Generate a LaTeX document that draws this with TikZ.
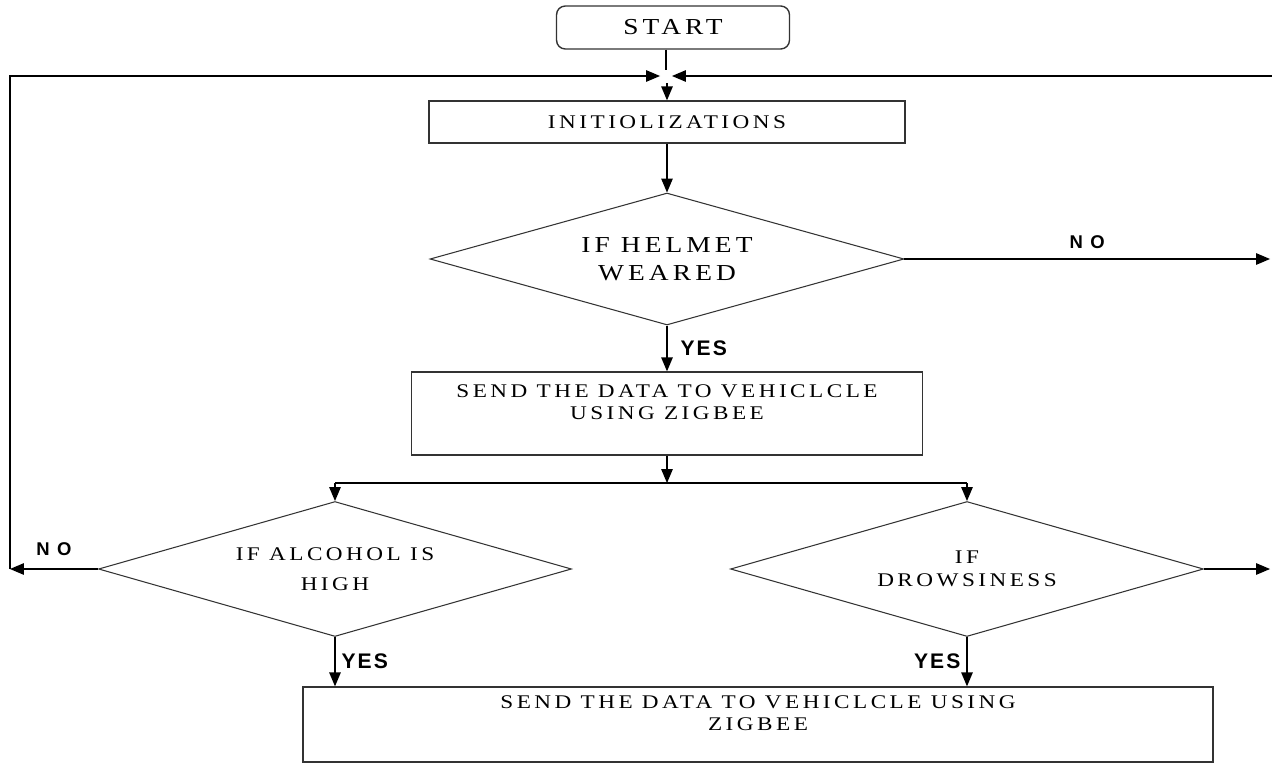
\documentclass[tikz,border=0pt]{standalone}
\usepackage{fontspec}
\newfontfamily\wideserif{Liberation Serif}[FakeStretch=1.2,LetterSpace=18]
\newfontfamily\labelsans{Liberation Sans}
\usetikzlibrary{arrows}
\usetikzlibrary{shapes.geometric}

\begin{document}
\begin{tikzpicture}[x=0.02cm,y=-0.02cm,line width=0.8pt,>=triangle 45,
  box/.style={draw=black!80,rectangle,inner sep=1pt,align=center},
  decision/.style={draw=black!80,diamond,shape aspect=3.6,inner sep=0pt,align=center,line width=0.6pt},
  yeslbl/.style={font=\labelsans\bfseries\addfontfeature{LetterSpace=10}\fontsize{12}{14}\selectfont},
  nolbl/.style={font=\labelsans\bfseries\addfontfeature{LetterSpace=40}\fontsize{10.5}{12}\selectfont}]
  \useasboundingbox (0,0) rectangle (1272,764);

\node[box,rounded corners=5pt,minimum width=4.66cm,minimum height=0.86cm,
  font=\wideserif\fontsize{13}{15}\selectfont] (start) at (673,27.5) {START};

\node[box,minimum width=9.52cm,minimum height=0.84cm,
  font=\wideserif\fontsize{11}{13}\selectfont] (init) at (667,122) {INITIOLIZATIONS};

\node[decision,minimum width=9.48cm,minimum height=2.64cm,
  font=\wideserif\fontsize{13}{16}\selectfont] (helmet) at (667,259) {IF HELMET\\WEARED};

\node[box,minimum width=10.22cm,minimum height=1.66cm,
  font=\wideserif\fontsize{11}{13}\selectfont] (send1) at (667,413.5)
  {SEND THE DATA TO VEHICLCLE\\USING ZIGBEE\\~};

\node[decision,minimum width=9.46cm,minimum height=2.7cm,
  font=\wideserif\fontsize{11}{17}\selectfont] (alcohol) at (335,569) {IF ALCOHOL IS\\HIGH};

\node[decision,minimum width=9.46cm,minimum height=2.7cm,
  font=\wideserif\fontsize{11}{13}\selectfont] (drowsy) at (967,569) {IF\\DROWSINESS};

\node[box,minimum width=18.2cm,minimum height=1.5cm,
  font=\wideserif\fontsize{11}{13}\selectfont] (send2) at (758,724.5)
  {SEND THE DATA TO VEHICLCLE USING\\ZIGBEE\\~};

% loop back points
\coordinate (mtop) at (666,70);
\coordinate (mleft) at (660,76);
\coordinate (mright) at (672,76);
\coordinate (mbot) at (667,83);
\coordinate (lcol) at (10,76);
\coordinate (redge) at (1270,76);
\coordinate (split) at (667,483);

\draw (mtop |- start.south) -- (mtop);
\draw[->] (mbot) -- (init.north);
\draw[->] (init.south) -- (helmet.north);

\draw[->] (helmet.east) -- (helmet.east -| redge) node[midway,above=2pt,nolbl] {NO};
\draw[->] (helmet.south) -- (send1.north) node[midway,right=4pt,yeslbl] {YES};

\draw[->] (send1.south) -- (split);
\draw (alcohol.north |- split) -- (drowsy.north |- split);
\draw[->] (alcohol.north |- split) -- (alcohol.north);
\draw[->] (drowsy.north |- split) -- (drowsy.north);

\draw[->] (alcohol.west) -- (alcohol.west -| lcol) node[midway,above=4pt,nolbl] {NO};
\draw[->] (alcohol.west -| lcol) -- (lcol) -- (mleft);
\draw[->] (1272,76) -- (mright);
\draw[->] (drowsy.east) -- (drowsy.east -| redge);

\draw[->] (alcohol.south) -- (alcohol.south |- send2.north)
node[midway,right,yeslbl] {YES};
\draw[->] (drowsy.south) -- (drowsy.south |- send2.north)
node[midway,left,yeslbl] {YES};

\end{tikzpicture}
\end{document}
